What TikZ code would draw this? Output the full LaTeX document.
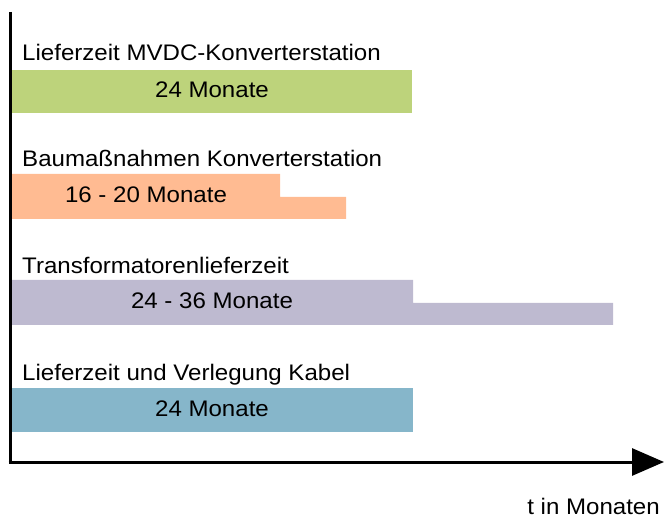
\documentclass[tikz,border=0pt]{standalone}
\usepackage{fontspec}
\setmainfont{Liberation Sans}
\usetikzlibrary{arrows.meta}

\definecolor{barGreen}{RGB}{189,211,123}
\definecolor{barOrange}{RGB}{255,187,146}
\definecolor{barPurple}{RGB}{190,186,208}
\definecolor{barBlue}{RGB}{134,182,202}

\newcommand{\wide}[1]{\scalebox{1.07}[1]{#1}} % text is a bit wider than high

\tikzset{
  phase/.style={anchor=base west, inner sep=0pt, font=\fontsize{22.5}{26}\selectfont},
  duration/.style={anchor=base, inner sep=0pt, font=\fontsize{22.5}{26}\selectfont},
  axis/.style={line width=3pt, -{Triangle[length=32pt,width=27pt]}}
}

\begin{document}
\begin{tikzpicture}[x=1pt,y=-1pt]

\useasboundingbox (0,0) rectangle (664,518);

%definitions

\def\xl{12} % left edge of bars
\def\xf{412} % end of 24 months

%bars

\fill[barGreen] (\xl,70) rectangle (\xf,113); % MVDC converter
\fill[barOrange] (\xl,174) -- (280,174) -- (280,197) -- (346,197) -- (346,219) -- (\xl,219) -- cycle; % construction
\fill[barPurple] (\xl,280) -- (413,280) -- (413,303) -- (613,303) -- (613,325) -- (\xl,325) -- cycle; % transformer
\fill[barBlue] (\xl,388) rectangle (413,432); % cable

%labels

\node[phase] (lblMVDC) at (22,61) {\wide{Lieferzeit MVDC-Konverterstation}};
\node[phase] (lblBau) at (22,167) {\wide{Baumaßnahmen Konverterstation}};
\node[phase] (lblTrafo) at (22,274) {\wide{Transformatorenlieferzeit}};
\node[phase] (lblKabel) at (22,381) {\wide{Lieferzeit und Verlegung Kabel}};

\node[duration] (durMVDC) at (212,98) {\wide{24 Monate}};
\node[duration] (durBau) at (146,203) {\wide{16 - 20 Monate}};
\node[duration] (durTrafo) at (212,309) {\wide{24 - 36 Monate}};
\node[duration] (durKabel) at (212,417) {\wide{24 Monate}};

%axes

\coordinate (ttop) at (10,12);
\coordinate (origin) at (10,462);
\coordinate (tend) at (664,462);

\draw[line width=3pt] (ttop) -- (origin);
\draw[axis] ([xshift=-1.5pt]origin) -- (tend);

\node[anchor=base east, inner sep=0pt, font=\fontsize{22.5}{26}\selectfont] (tlabel) at (660,514) {\wide{t in Monaten}};

\end{tikzpicture}
\end{document}
